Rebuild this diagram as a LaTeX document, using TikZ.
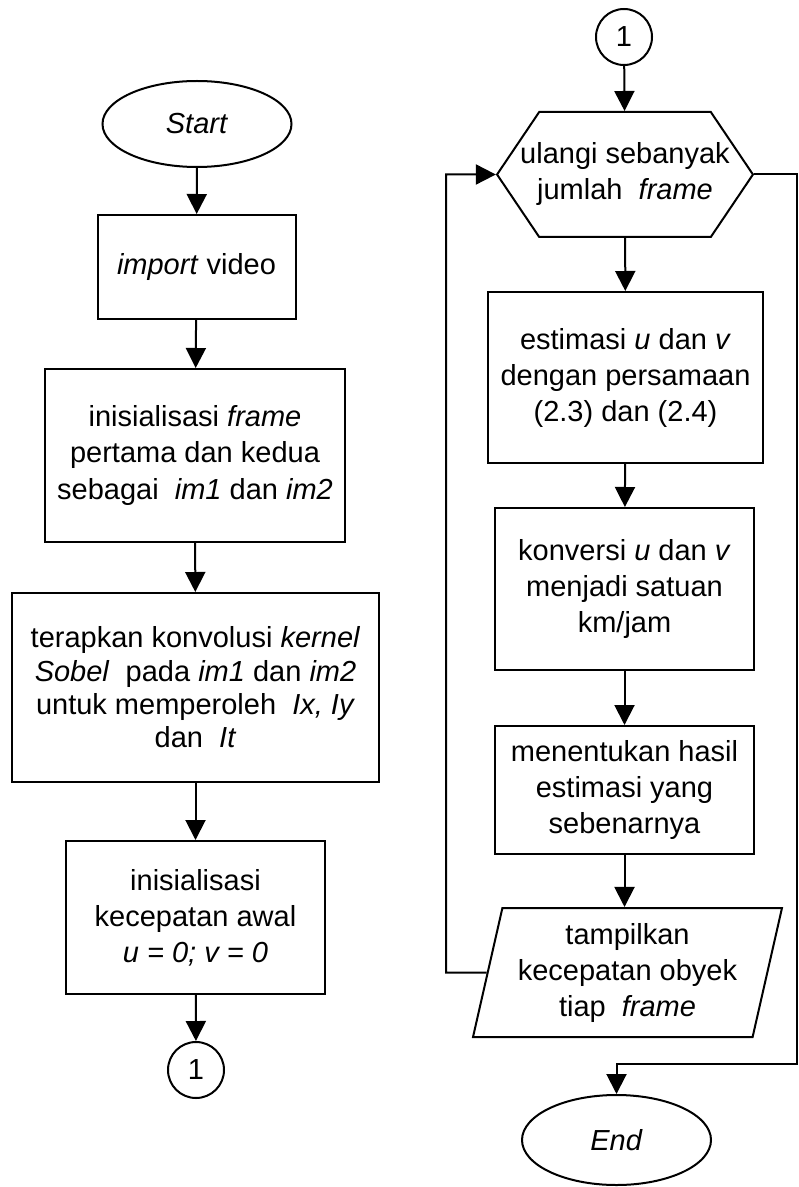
\documentclass[tikz,border=0pt]{standalone}
\usepackage{fontspec}
\setmainfont{Liberation Sans}
\usepackage{tikz}
\usetikzlibrary{arrows.meta,shapes.geometric,shapes.symbols}
\tikzset{
  flowbox/.style={draw, line width=1pt, align=center, inner sep=2pt,
    font=\fontsize{14.5}{18}\selectfont},
  procbox/.style={flowbox, rectangle},
  termnode/.style={flowbox, ellipse, minimum width=94.5pt, minimum height=43pt},
  connode/.style={flowbox, circle, minimum size=28pt, inner sep=0pt},
  loopnode/.style={flowbox, signal, signal to=west and east,
    signal pointer angle=112, inner xsep=-9.5pt},
  iobox/.style={flowbox, trapezium, trapezium left angle=76,
    trapezium right angle=104, trapezium stretches=true},
  arr/.style={-{Triangle[length=10pt, width=10pt]}, line width=1pt},
  line/.style={line width=1pt}
}
\begin{document}
\begin{tikzpicture}[x=0.5pt, y=-0.5pt]
    \useasboundingbox (0,0) rectangle (798,1187);
    \node[termnode] (start) at (197,124) {\textit{Start}};
    \node[procbox, minimum width=99pt, minimum height=52pt] (importvid) at (196.5,267) {\textit{import} video};
    \node[procbox, minimum width=150pt, minimum height=86.5pt] (initframe) at (195,455.5)
      {inisialisasi \textit{frame}\\ pertama dan kedua\\ sebagai \ \textit{im1} dan \textit{im2}};
    \node[procbox, minimum width=183.5pt, minimum height=94.5pt,
      font=\fontsize{14.5}{16.7}\selectfont] (sobel) at (195.5,687.5)
      {terapkan konvolusi \textit{kernel}\\ \textit{Sobel} \ pada \textit{im1} dan \textit{im2}\\ untuk memperoleh \ \textit{Ix, Iy}\\ dan \ \textit{It}};
    \node[procbox, minimum width=129.5pt, minimum height=76.5pt] (initvel) at (195.5,917.5)
      {inisialisasi\\ kecepatan awal\\ \textit{u = 0; v = 0}};
    \node[connode] (conA) at (196,1070) {1};
    \node[connode] (conB) at (624,37) {1};
    \node[loopnode, minimum height=62.5pt] (loop) at (625,174.5)
      {ulangi sebanyak\\ jumlah \ \textit{frame}};
    \node[procbox, minimum width=137.5pt, minimum height=85.5pt] (estimasi) at (625.5,377.5)
      {estimasi \textit{u} dan \textit{v}\\ dengan persamaan\\ (2.3) dan (2.4)};
    \node[procbox, minimum width=129.5pt, minimum height=81pt] (konversi) at (624.5,589)
      {konversi \textit{u} dan \textit{v}\\ menjadi satuan\\ km/jam};
    \node[procbox, minimum width=129.5pt, minimum height=64pt] (hasil) at (624.5,790)
      {menentukan hasil\\ estimasi yang\\ sebenarnya};
    \node[iobox, minimum width=154.5pt, minimum height=64.5pt] (tampil) at (627.5,972.5)
      {tampilkan\\ kecepatan obyek\\ tiap \ \textit{frame}};
    \node[termnode, minimum height=45pt] (finish) at (616.5,1140) {\textit{End}};
    \coordinate (back) at (446,972.5);
    \coordinate (exitR) at (797,174.5);
    \coordinate (exitD) at (616.5,1064);
    \draw[arr] (start) -- (importvid);
    \draw[arr] (importvid) -- (initframe);
    \draw[arr] (initframe) -- (sobel);
    \draw[arr] (sobel) -- (initvel);
    \draw[arr] (initvel) -- (conA);
    \draw[arr] (conB) -- (loop);
    \draw[arr] (loop) -- (estimasi);
    \draw[arr] (estimasi) -- (konversi);
    \draw[arr] (konversi) -- (hasil);
    \draw[arr] (hasil.south) -- (hasil.south |- tampil.north);
    \draw[arr] (tampil.west) -- (back) |- (loop.west);
    \draw[arr] (loop.east) -- (exitR) |- (exitD) -- (finish.north);
  \end{tikzpicture}
\end{document}
